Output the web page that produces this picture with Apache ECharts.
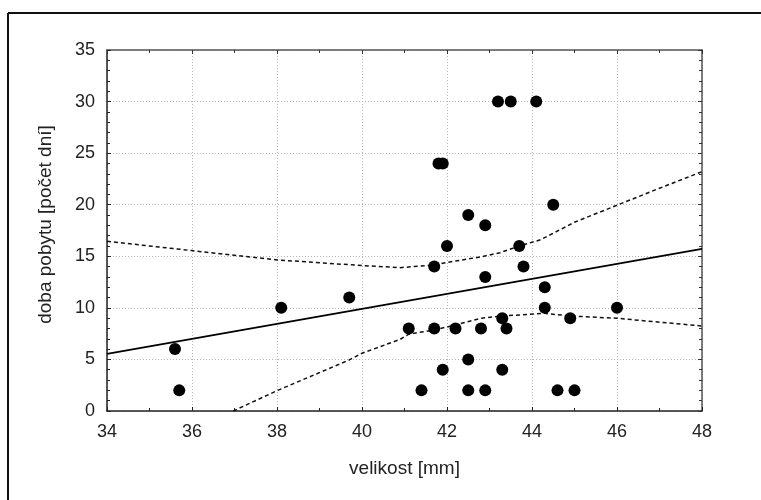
<!DOCTYPE html>
<html>
<head>
<meta charset="utf-8">
<script src="https://cdn.jsdelivr.net/npm/echarts@6/dist/echarts.min.js"></script>
<style>
html,body{margin:0;padding:0;background:#fff;}
#chart{width:761px;height:500px;}
</style>
</head>
<body>
<div id="chart"></div>
<script>
// Data
var velikost = [35.6, 35.7, 38.1, 39.7, 41.1, 41.7, 42.2, 42.8, 43.4, 43.3, 41.7, 42.0, 42.9, 43.7, 43.8, 44.3, 44.3, 44.9, 46.0, 42.5, 41.9, 43.3, 41.4, 42.5, 42.9, 44.6, 45.0, 43.2, 43.5, 44.1, 41.8, 41.9, 42.5, 42.9, 44.5];
var dobaPobytu = [6, 2, 10, 11, 8, 8, 8, 8, 8, 9, 14, 16, 13, 16, 14, 12, 10, 9, 10, 5, 4, 4, 2, 2, 2, 2, 2, 30, 30, 30, 24, 24, 19, 18, 20];

var fitX = [34, 48];
var fitY = [5.53, 15.71];

var upperX = [34, 36, 38, 40, 40.9, 41.7, 42, 42.8, 43.25, 43.7, 44.2, 45, 46, 47, 48];
var upperY = [16.45, 15.55, 14.65, 14.1, 13.9, 14.15, 14.4, 14.95, 15.35, 16.0, 16.6, 18.3, 19.95, 21.6, 23.2];

var lowerX = [36.97, 38, 39.7, 40, 40.9, 41.1, 41.7, 42.2, 42.8, 43.3, 44.3, 44.9, 46, 47.3, 48];
var lowerY = [0, 1.97, 4.95, 5.6, 6.95, 7.45, 7.86, 8.34, 8.99, 9.21, 9.47, 9.21, 8.99, 8.5, 8.24];

var xTicks = {min: 34, max: 48, interval: 2};
var yTicks = {min: 0, max: 35, interval: 5};

var xName = 'velikost [mm]';
var yName = 'doba pobytu [počet dní]';

function pairs(xs, ys) { return xs.map(function (x, i) { return [x, ys[i]]; }); }

var FONT = '"Liberation Sans", Arial, sans-serif';
var grid = {left: 107, right: 59, top: 50, bottom: 89};
var gridLine = {show: true, lineStyle: {color: '#b4b4b4', type: [1, 2], width: 1}};

var chart = echarts.init(document.getElementById('chart'), null, {renderer: 'canvas'});
chart.setOption({
  backgroundColor: '#ffffff',
  animation: false,
  grid: grid,
  xAxis: [{
    type: 'value', min: xTicks.min, max: xTicks.max, interval: xTicks.interval,
    name: xName, nameLocation: 'middle', nameGap: 48,
    nameTextStyle: {fontFamily: FONT, fontSize: 19, color: '#222'},
    axisLine: {show: true, onZero: false, lineStyle: {color: '#222', width: 1.5}},
    axisTick: {show: true, inside: true, length: 4, lineStyle: {color: '#222'}},
    minorTick: {show: true, splitNumber: 2, length: 3, lineStyle: {color: '#222'}},
    axisLabel: {fontFamily: FONT, fontSize: 18, color: '#222', margin: 12},
    splitLine: gridLine
  }, {
    type: 'value', position: 'top', min: xTicks.min, max: xTicks.max, interval: xTicks.interval,
    axisLine: {show: true, onZero: false, lineStyle: {color: '#555', width: 1.5}},
    axisTick: {show: true, inside: true, length: 4, lineStyle: {color: '#333'}},
    minorTick: {show: true, splitNumber: 2, length: 3, lineStyle: {color: '#333'}},
    axisLabel: {show: false}, splitLine: {show: false}
  }],
  yAxis: [{
    type: 'value', min: yTicks.min, max: yTicks.max, interval: yTicks.interval,
    name: yName, nameLocation: 'middle', nameGap: 52, nameRotate: 90,
    nameTextStyle: {fontFamily: FONT, fontSize: 19, color: '#222', padding: [0, 0, 0, 12]},
    axisLine: {show: true, onZero: false, lineStyle: {color: '#222', width: 1.5}},
    axisTick: {show: true, inside: true, length: 4, lineStyle: {color: '#222'}},
    minorTick: {show: true, splitNumber: 5, length: 3, lineStyle: {color: '#222'}},
    axisLabel: {fontFamily: FONT, fontSize: 18, color: '#222', margin: 12},
    splitLine: gridLine
  }, {
    type: 'value', position: 'right', min: yTicks.min, max: yTicks.max, interval: yTicks.interval,
    axisLine: {show: true, onZero: false, lineStyle: {color: '#555', width: 1.5}},
    axisTick: {show: true, inside: true, length: 4, lineStyle: {color: '#333'}},
    minorTick: {show: true, splitNumber: 5, length: 3, lineStyle: {color: '#333'}},
    axisLabel: {show: false}, splitLine: {show: false}
  }],
  graphic: [
    {type: 'line', shape: {x1: 8, y1: 13, x2: 761, y2: 13}, style: {stroke: '#111', lineWidth: 2}},
    {type: 'line', shape: {x1: 8, y1: 13, x2: 8, y2: 500}, style: {stroke: '#111', lineWidth: 2}}
  ],
  series: [{
    type: 'line', data: pairs(upperX, upperY), symbol: 'none', silent: true,
    lineStyle: {color: '#111', width: 1.5, type: [4, 3]}, z: 3
  }, {
    type: 'line', data: pairs(lowerX, lowerY), symbol: 'none', silent: true,
    lineStyle: {color: '#111', width: 1.5, type: [4, 3]}, z: 3
  }, {
    type: 'line', data: pairs(fitX, fitY), symbol: 'none', silent: true,
    lineStyle: {color: '#000', width: 1.8}, z: 3
  }, {
    type: 'scatter', data: pairs(velikost, dobaPobytu), symbol: 'circle', symbolSize: 12,
    itemStyle: {color: '#000', opacity: 1}, z: 5
  }]
});
</script>
</body>
</html>
